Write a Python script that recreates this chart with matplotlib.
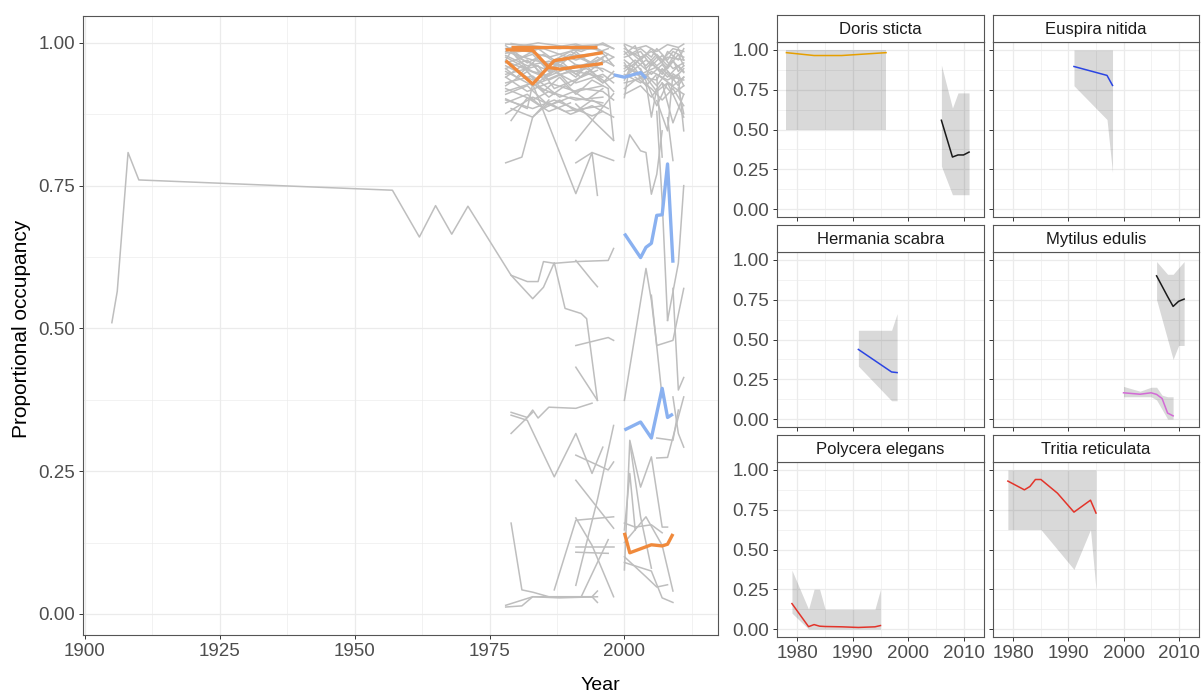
import matplotlib
matplotlib.use("Agg")
import matplotlib.pyplot as plt
from matplotlib.ticker import FormatStrFormatter

plt.rcParams['font.family'] = ['Liberation Sans', 'DejaVu Sans']

# ---------------------------------------------------------------------------
# Occupancy trajectories (all species)
# ---------------------------------------------------------------------------
hist_years = [1905, 1906, 1908, 1910, 1957, 1962, 1965, 1968, 1971, 1979, 1982,
              1984, 1985, 1987, 1991, 1997, 1998]
hist_occ = [0.51, 0.565, 0.808, 0.76, 0.742, 0.66, 0.715, 0.665, 0.714, 0.593,
            0.582, 0.582, 0.617, 0.614, 0.617, 0.619, 0.640]

early_upper = [
    ([1978, 1983, 1988, 1991, 1996, 1998], [0.998, 0.995, 0.99, 0.995, 0.997, 0.99]),
    ([1978, 1982, 1986, 1991, 1995, 1998], [0.99, 0.985, 0.975, 0.988, 0.99, 0.975]),
    ([1978, 1983, 1987, 1991, 1996, 1998], [0.985, 0.97, 0.962, 0.978, 0.982, 0.96]),
    ([1978, 1982, 1986, 1990, 1996], [0.978, 0.96, 0.968, 0.955, 0.972]),
    ([1978, 1983, 1986, 1991, 1996, 1998], [0.975, 0.95, 0.942, 0.962, 0.955, 0.945]),
    ([1978, 1984, 1988, 1992, 1996], [0.968, 0.945, 0.962, 0.94, 0.968]),
    ([1978, 1983, 1987, 1991, 1996, 1998], [0.96, 0.935, 0.95, 0.93, 0.945, 0.93]),
    ([1978, 1982, 1986, 1990, 1996], [0.955, 0.97, 0.935, 0.952, 0.94]),
    ([1978, 1983, 1988, 1993, 1996, 1998], [0.95, 0.925, 0.945, 0.955, 0.935, 0.915]),
    ([1978, 1984, 1987, 1991, 1995], [0.945, 0.96, 0.92, 0.936, 0.952]),
    ([1978, 1982, 1986, 1991, 1996], [0.94, 0.915, 0.93, 0.915, 0.925]),
    ([1978, 1983, 1988, 1992, 1996, 1998], [0.93, 0.942, 0.905, 0.92, 0.915, 0.9]),
    ([1978, 1983, 1986, 1991, 1996], [0.92, 0.9, 0.915, 0.9, 0.905]),
    ([1978, 1982, 1986, 1990, 1996], [0.91, 0.925, 0.89, 0.905, 0.895]),
    ([1978, 1983, 1987, 1994, 1996], [0.9, 0.885, 0.9, 0.872, 0.88]),
    ([1978, 1983, 1989, 1996], [0.876, 0.905, 0.88, 0.89]),
    ([1979, 1982, 1986, 1990], [0.864, 0.904, 0.88, 0.895]),
    ([1978, 1982, 1983, 1987], [0.902, 0.885, 0.928, 0.91]),
    ([1978, 1981, 1983, 1986], [0.79, 0.80, 0.87, 0.90]),
    ([1983, 1991, 1994, 1995], [0.928, 0.736, 0.808, 0.733]),
    ([1991, 1998], [0.829, 0.911]),
    ([1991, 1998], [0.893, 0.829]),
    ([1991, 1994, 1998], [0.79, 0.808, 0.794]),
    ([1997, 1998], [0.92, 0.83]),
    ([1979, 1985, 1991, 1996], [0.999, 0.99, 0.998, 0.985]),
    ([1978, 1985, 1991, 1997], [0.982, 0.99, 0.97, 0.99]),
    ([1978, 1979, 1982, 1984, 1986, 1988, 1991, 1994, 1996],
     [0.97, 0.985, 0.955, 0.975, 0.95, 0.97, 0.945, 0.965, 0.95]),
    ([1978, 1980, 1983, 1985, 1988, 1991, 1993, 1996, 1998],
     [0.955, 0.94, 0.965, 0.935, 0.96, 0.94, 0.96, 0.93, 0.95]),
    ([1978, 1981, 1984, 1987, 1990, 1993, 1996, 1998],
     [0.94, 0.96, 0.93, 0.955, 0.925, 0.95, 0.93, 0.94]),
    ([1978, 1982, 1985, 1988, 1991, 1994, 1997], [0.925, 0.95, 0.915, 0.94, 0.91, 0.935, 0.92]),
    ([1978, 1981, 1984, 1987, 1990, 1994, 1997], [0.995, 0.975, 0.99, 0.97, 0.985, 0.965, 0.98]),
    ([1978, 1983, 1986, 1989, 1992, 1995, 1998], [0.965, 0.98, 0.95, 0.975, 0.955, 0.975, 0.96]),
    ([1979, 1982, 1985, 1988, 1991, 1994, 1996], [0.985, 0.965, 0.98, 0.96, 0.985, 0.96, 0.975]),
    ([1978, 1983, 1986, 1989, 1993, 1996], [0.915, 0.93, 0.905, 0.925, 0.9, 0.92]),
    ([1978, 1982, 1985, 1988, 1991, 1994, 1997], [0.895, 0.91, 0.885, 0.9, 0.88, 0.9, 0.885]),
    ([1979, 1983, 1986, 1990, 1994, 1998], [0.885, 0.87, 0.895, 0.875, 0.89, 0.87]),
    ([1978, 1984, 1988, 1992, 1996, 1998], [0.99, 1.0, 0.995, 0.985, 1.0, 0.99]),
    ([1980, 1985, 1990, 1995, 1998], [0.975, 0.955, 0.98, 0.96, 0.975]),
]

early_lower = [
    ([1979, 1983, 1985, 1987, 1989, 1992, 1993, 1995],
     [0.593, 0.552, 0.572, 0.615, 0.535, 0.526, 0.517, 0.374]),
    ([1991, 1994, 1995], [0.619, 0.584, 0.573]),
    ([1991, 1997, 1998], [0.47, 0.484, 0.479]),
    ([1991, 1995], [0.432, 0.374]),
    ([1979, 1982, 1983, 1984, 1986, 1991, 1994],
     [0.353, 0.344, 0.357, 0.343, 0.362, 0.36, 0.369]),
    ([1979, 1982, 1987, 1991, 1994, 1996], [0.348, 0.339, 0.24, 0.316, 0.246, 0.292]),
    ([1979, 1983], [0.316, 0.353]),
    ([1991, 1997, 1998], [0.278, 0.252, 0.266]),
    ([1991, 1998], [0.234, 0.15]),
    ([1979, 1981, 1983, 1986, 1991, 1994, 1995], [0.159, 0.042, 0.038, 0.03, 0.03, 0.03, 0.04]),
    ([1978, 1983, 1988, 1995], [0.015, 0.03, 0.028, 0.03]),
    ([1978, 1981, 1983, 1994, 1995], [0.012, 0.014, 0.03, 0.03, 0.02]),
    ([1987, 1991, 1998], [0.042, 0.164, 0.17]),
    ([1991, 1998], [0.117, 0.117]),
    ([1991, 1997], [0.108, 0.106]),
    ([1992, 1997], [0.03, 0.13]),
    ([1991, 1994, 1998], [0.168, 0.12, 0.03]),
    ([1991, 1995, 1998], [0.05, 0.2, 0.33]),
]

late_upper = [
    ([2000, 2002, 2004, 2006, 2008, 2010, 2011], [0.998, 0.99, 0.995, 0.985, 0.997, 0.992, 0.998]),
    ([2000, 2003, 2005, 2007, 2009, 2011], [0.99, 0.975, 0.985, 0.97, 0.99, 0.985]),
    ([2000, 2002, 2004, 2006, 2008, 2011], [0.985, 0.965, 0.978, 0.96, 0.975, 0.97]),
    ([2000, 2003, 2005, 2007, 2009, 2011], [0.975, 0.985, 0.96, 0.978, 0.955, 0.965]),
    ([2000, 2002, 2004, 2007, 2009, 2011], [0.97, 0.955, 0.97, 0.95, 0.968, 0.948]),
    ([2000, 2003, 2006, 2008, 2010, 2011], [0.96, 0.945, 0.958, 0.94, 0.96, 0.95]),
    ([2000, 2002, 2005, 2007, 2009, 2011], [0.955, 0.97, 0.945, 0.962, 0.94, 0.935]),
    ([2000, 2003, 2005, 2008, 2010, 2011], [0.945, 0.93, 0.95, 0.935, 0.945, 0.925]),
    ([2000, 2002, 2004, 2006, 2009, 2011], [0.94, 0.955, 0.925, 0.945, 0.925, 0.94]),
    ([2000, 2004, 2006, 2008, 2011], [0.93, 0.94, 0.915, 0.93, 0.91]),
    ([2000, 2001], [0.904, 0.963]),
    ([2000, 2001, 2003, 2004, 2005, 2006, 2007], [0.80, 0.839, 0.811, 0.808, 0.735, 0.77, 0.846]),
    ([2006, 2008, 2009, 2010, 2011], [0.899, 0.846, 0.946, 0.939, 0.846]),
    ([2006, 2007], [0.94, 0.80]),
    ([2008, 2009], [0.869, 0.794]),
    ([2010, 2011], [0.921, 0.876]),
    ([2004, 2005, 2006], [0.93, 0.87, 0.92]),
    ([2007, 2009, 2011], [0.93, 0.86, 0.91]),
    ([2000, 2001, 2003, 2005, 2006, 2008, 2009, 2011],
     [0.995, 0.98, 0.99, 0.975, 0.99, 0.97, 0.985, 0.975]),
    ([2000, 2002, 2003, 2005, 2007, 2008, 2010, 2011],
     [0.98, 0.995, 0.97, 0.99, 0.965, 0.985, 0.97, 0.99]),
    ([2000, 2001, 2003, 2004, 2006, 2008, 2010, 2011],
     [0.965, 0.95, 0.975, 0.955, 0.975, 0.955, 0.98, 0.96]),
    ([2000, 2002, 2004, 2005, 2007, 2009, 2010, 2011],
     [0.95, 0.965, 0.94, 0.965, 0.945, 0.97, 0.95, 0.96]),
    ([2000, 2001, 2003, 2006, 2007, 2009, 2011], [0.935, 0.955, 0.94, 0.935, 0.955, 0.935, 0.955]),
    ([2000, 2002, 2004, 2006, 2008, 2010, 2011], [0.92, 0.935, 0.945, 0.925, 0.95, 0.925, 0.94]),
    ([2000, 2003, 2005, 2007, 2009, 2011], [0.91, 0.925, 0.905, 0.93, 0.91, 0.925]),
    ([2001, 2004, 2006, 2008, 2010, 2011], [0.985, 0.96, 0.98, 0.96, 0.99, 0.97]),
    ([2002, 2005, 2007, 2009, 2011], [0.94, 0.92, 0.9, 0.92, 0.89]),
    ([2003, 2006, 2008, 2011], [0.955, 0.89, 0.93, 0.87]),
]

late_lower = [
    ([2000, 2004, 2005, 2006, 2009, 2011], [0.374, 0.605, 0.549, 0.47, 0.479, 0.57]),
    ([2005, 2007], [0.558, 0.379]),
    ([2006, 2007, 2008], [0.88, 0.724, 0.514]),
    ([2008, 2010, 2011], [0.514, 0.614, 0.75]),
    ([2009, 2010, 2011], [0.57, 0.392, 0.414]),
    ([2006, 2009, 2010], [0.308, 0.304, 0.357]),
    ([2006, 2008, 2011], [0.273, 0.274, 0.38]),
    ([2009, 2010, 2011], [0.38, 0.316, 0.292]),
    ([2000, 2001, 2003, 2005, 2007, 2008], [0.077, 0.304, 0.222, 0.275, 0.152, 0.152]),
    ([2000, 2001, 2002], [0.147, 0.246, 0.147]),
    ([2000, 2004, 2006, 2008], [0.10, 0.065, 0.047, 0.051]),
    ([2000, 2005, 2007, 2009], [0.09, 0.075, 0.028, 0.02]),
    ([2000, 2002, 2005, 2007], [0.159, 0.152, 0.156, 0.142]),
    ([2000, 2004, 2007, 2009], [0.125, 0.17, 0.12, 0.04]),
    ([2001, 2003, 2005], [0.30, 0.17, 0.08]),
]

# Highlighted trajectories
declining = [
    ([1979, 1995], [0.993, 0.993]),
    ([1978, 1983, 1986, 1988, 1996], [0.988, 0.987, 0.957, 0.954, 0.964]),
    ([1978, 1983, 1987, 1996], [0.969, 0.928, 0.969, 0.983]),
    ([2000, 2001, 2003, 2005, 2007, 2008, 2009], [0.142, 0.107, 0.114, 0.121, 0.119, 0.122, 0.140]),
]
increasing = [
    ([1998, 2000, 2003, 2004], [0.944, 0.940, 0.948, 0.938]),
    ([2000, 2003, 2004, 2005, 2006, 2007, 2008, 2009],
     [0.666, 0.624, 0.642, 0.649, 0.698, 0.699, 0.788, 0.615]),
    ([2000, 2003, 2005, 2007, 2008, 2009], [0.322, 0.336, 0.308, 0.395, 0.344, 0.35]),
]

# ---------------------------------------------------------------------------
# Species panels: fitted occupancy with interval (years, fit, lower, upper, colour)
# ---------------------------------------------------------------------------
species = ["Doris sticta", "Euspira nitida", "Hermania scabra",
           "Mytilus edulis", "Polycera elegans", "Tritia reticulata"]

doris_a_years = [1978, 1983, 1988, 1996]
doris_a_fit = [0.983, 0.965, 0.965, 0.983]
doris_a_lo = [0.5, 0.5, 0.5, 0.5]
doris_a_hi = [1.0, 1.0, 1.0, 1.0]
doris_b_years = [2006, 2008, 2009, 2010, 2011]
doris_b_fit = [0.558, 0.327, 0.34, 0.34, 0.358]
doris_b_lo = [0.27, 0.09, 0.09, 0.09, 0.09]
doris_b_hi = [0.906, 0.635, 0.73, 0.73, 0.73]

euspira_years = [1991, 1997, 1998]
euspira_fit = [0.896, 0.84, 0.777]
euspira_lo = [0.775, 0.5625, 0.229]
euspira_hi = [1.0, 1.0, 1.0]

hermania_years = [1991, 1997, 1998]
hermania_fit = [0.4375, 0.296, 0.292]
hermania_lo = [0.333, 0.115, 0.115]
hermania_hi = [0.558, 0.558, 0.6625]

mytilus_a_years = [2006, 2008, 2009, 2010, 2011]
mytilus_a_fit = [0.90, 0.77, 0.708, 0.74, 0.754]
mytilus_a_lo = [0.75, 0.5, 0.375, 0.4625, 0.4625]
mytilus_a_hi = [0.99, 0.91, 0.91, 0.95, 0.99]
mytilus_b_years = [2000, 2003, 2005, 2006, 2007, 2008, 2009]
mytilus_b_fit = [0.165, 0.156, 0.165, 0.155, 0.129, 0.0375, 0.02]
mytilus_b_lo = [0.14, 0.14, 0.14, 0.12, 0.06, 0.0, 0.0]
mytilus_b_hi = [0.205, 0.175, 0.2, 0.2, 0.15, 0.14, 0.14]

polycera_years = [1979, 1982, 1983, 1984, 1985, 1988, 1991, 1994, 1995]
polycera_fit = [0.16, 0.015, 0.028, 0.018, 0.016, 0.014, 0.01, 0.014, 0.022]
polycera_lo = [0.1, 0.0, 0.0, 0.0, 0.0, 0.0, 0.0, 0.0, 0.0]
polycera_hi = [0.37, 0.125, 0.25, 0.25, 0.125, 0.125, 0.125, 0.125, 0.25]

tritia_years = [1979, 1982, 1983, 1984, 1985, 1988, 1991, 1994, 1995]
tritia_fit = [0.93, 0.875, 0.896, 0.94, 0.94, 0.854, 0.735, 0.81, 0.729]
tritia_lo = [0.625, 0.625, 0.625, 0.625, 0.625, 0.5, 0.375, 0.625, 0.25]
tritia_hi = [1.0, 1.0, 1.0, 1.0, 1.0, 1.0, 1.0, 1.0, 1.0]

ORANGE_FIT = "#E69F00"
BLUE_FIT = "#2B45E3"
RED_FIT = "#E3342A"
PINK_FIT = "#D36AD6"
BLACK_FIT = "#1A1A1A"

panel_series = {
    "Doris sticta": [(doris_a_years, doris_a_fit, doris_a_lo, doris_a_hi, ORANGE_FIT),
                     (doris_b_years, doris_b_fit, doris_b_lo, doris_b_hi, BLACK_FIT)],
    "Euspira nitida": [(euspira_years, euspira_fit, euspira_lo, euspira_hi, BLUE_FIT)],
    "Hermania scabra": [(hermania_years, hermania_fit, hermania_lo, hermania_hi, BLUE_FIT)],
    "Mytilus edulis": [(mytilus_a_years, mytilus_a_fit, mytilus_a_lo, mytilus_a_hi, BLACK_FIT),
                       (mytilus_b_years, mytilus_b_fit, mytilus_b_lo, mytilus_b_hi, PINK_FIT)],
    "Polycera elegans": [(polycera_years, polycera_fit, polycera_lo, polycera_hi, RED_FIT)],
    "Tritia reticulata": [(tritia_years, tritia_fit, tritia_lo, tritia_hi, RED_FIT)],
}

# ---------------------------------------------------------------------------
# Layout helpers
# ---------------------------------------------------------------------------
W, H = 1201, 696
fig = plt.figure(figsize=(W / 100, H / 100), dpi=100)


def box(l, t, r, b):
    return [l / W, 1 - b / H, (r - l) / W, (b - t) / H]


GRID = "#EBEBEB"
BORDER = "#555555"
TICK_TXT = "#4D4D4D"


def style(ax, xmaj, xmin, ymaj, ymin, size):
    ax.set_xticks(xmaj)
    ax.set_xticks(xmin, minor=True)
    ax.set_yticks(ymaj)
    ax.set_yticks(ymin, minor=True)
    ax.grid(which="major", color=GRID, lw=0.9)
    ax.grid(which="minor", color=GRID, lw=0.45)
    ax.set_axisbelow(True)
    for s in ax.spines.values():
        s.set_color(BORDER)
        s.set_linewidth(0.8)
    ax.tick_params(which="major", length=3.2, width=0.7, color="#333333",
                   labelcolor=TICK_TXT, labelsize=size, pad=2.5)
    ax.tick_params(which="minor", length=0)
    ax.yaxis.set_major_formatter(FormatStrFormatter("%.2f"))


occ_major = [0, 0.25, 0.5, 0.75, 1.0]
occ_minor = [0.125, 0.375, 0.625, 0.875]

# ---------------------------------------------------------------------------
# Left: all species
# ---------------------------------------------------------------------------
ax = fig.add_axes(box(83, 15.5, 718, 635))
style(ax, [1900, 1925, 1950, 1975, 2000], [1912.5, 1937.5, 1962.5, 1987.5, 2012.5],
      occ_major, occ_minor, 13.5)
ax.set_xlim(1899.65, 2017.35)
ax.set_ylim(-0.037, 1.048)

GREY = "#BEBEBE"
ax.plot(hist_years, hist_occ, color=GREY, lw=1.1, zorder=2)
for group in (early_upper, early_lower, late_upper, late_lower):
    for yrs, occ in group:
        ax.plot(yrs, occ, color=GREY, lw=1.1, zorder=2)
for yrs, occ in declining:
    ax.plot(yrs, occ, color="#F08A3C", lw=2.4, zorder=3, solid_capstyle="butt")
for yrs, occ in increasing:
    ax.plot(yrs, occ, color="#8AB1F0", lw=2.4, zorder=3, solid_capstyle="butt")

# ---------------------------------------------------------------------------
# Right: selected species panels
# ---------------------------------------------------------------------------
col_x = [(777, 984), (993, 1199)]
row_y = [(15, 42, 217), (225, 252, 427), (435, 462, 637)]

for i, name in enumerate(species):
    r, c = divmod(i, 2)
    l, rr = col_x[c]
    st, pt, pb = row_y[r]
    pax = fig.add_axes(box(l, pt, rr, pb))
    style(pax, [1980, 1990, 2000, 2010], [1985, 1995, 2005], occ_major, occ_minor, 13.5)
    pax.set_xlim(1976.3, 2013.7)
    pax.set_ylim(-0.05, 1.05)
    for yrs, fit, lo, hi, col in panel_series[name]:
        pax.fill_between(yrs, lo, hi, color="black", alpha=0.15, lw=0, zorder=2)
        pax.plot(yrs, fit, color=col, lw=1.1, zorder=3)
    if c == 1:
        pax.tick_params(axis="y", labelleft=False)
    if r < 2:
        pax.tick_params(axis="x", labelbottom=False)

    sax = fig.add_axes(box(l, st, rr, pt))
    sax.set_xticks([])
    sax.set_yticks([])
    sax.set_facecolor("white")
    for s in sax.spines.values():
        s.set_color(BORDER)
        s.set_linewidth(0.8)
    sax.text(0.5, 0.45, name, ha="center", va="center", fontsize=12, color="#1A1A1A",
             transform=sax.transAxes)

fig.text(22 / W, 1 - 329 / H, "Proportional occupancy", rotation=90,
         ha="center", va="center", fontsize=15, color="black")
fig.text(0.5, 1 - 685 / H, "Year", ha="center", va="center", fontsize=14, color="black")

fig.savefig("out.png", dpi=100)
